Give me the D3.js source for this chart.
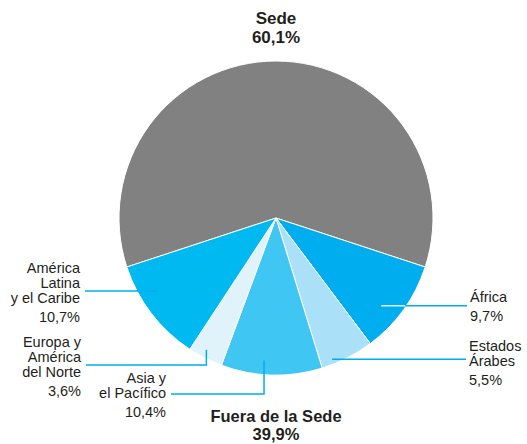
<!DOCTYPE html>
<html>
<head>
	<script src="https://cdn.jsdelivr.net/npm/d3@7"></script>
	<style>
		html, body {
			padding: 0;
			margin: 0;
			background: white;
		}
		text {
			font-family: "Liberation Sans", Arial, sans-serif;
		}
	</style>
</head>
<body>
	<div id="chart"></div>

	<script>
		// data
		var regions = ["Sede", "África", "Estados Árabes", "Asia y el Pacífico", "Europa y América del Norte", "América Latina y el Caribe"];
		var shares = [60.1, 9.7, 5.5, 10.4, 3.6, 10.7];
		var labelLines = [
			[],
			["África"],
			["Estados", "Árabes"],
			["Asia y", "el Pacífico"],
			["Europa y", "América", "del Norte"],
			["América", "Latina", "y el Caribe"]
		];
		var pctLabels = ["60,1%", "9,7%", "5,5%", "10,4%", "3,6%", "10,7%"];
		var headTitle = ["Sede", "60,1%"];
		var footTitle = ["Fuera de la Sede", "39,9%"];

		var colors = ["#818181", "#00aeef", "#abe0f9", "#40c6f3", "#e0f3fb", "#00b9f1"];
		var lineColor = "#00aeef";

		var width = 527, height = 444;
		var cx = 276, cy = 218, radius = 157;

		var svg = d3.select("#chart").append("svg")
			.attr("width", width)
			.attr("height", height);

		var g = svg.append("g").attr("transform", "translate(" + cx + "," + cy + ")");

		// rotate so the Sede slice is centred at the top
		var start = -shares[0] / 100 * Math.PI;
		var pie = d3.pie().sort(null).value(function(d) { return d; })
			.startAngle(start).endAngle(start + 2 * Math.PI);
		var arcs = pie(shares);
		var arc = d3.arc().innerRadius(0).outerRadius(radius);

		g.selectAll("path")
			.data(arcs)
			.enter().append("path")
			.attr("d", arc)
			.attr("fill", function(d, i) { return colors[i]; })
			.attr("stroke", "white")
			.attr("stroke-width", 1);

		// leader layout: start point (fraction through slice, radius), label x, side, optional elbow y
		var leaders = [
			null,
			{ frac: 0.62, r: 137, x: 467, side: "right", inner: "#e4f5fd" },
			{ frac: 0.77, r: 152, x: 466, side: "right" },
			{ frac: 0.585, r: 143, x: 171, side: "left", drop: 394 },
			{ frac: 0.58, r: 149, x: 86, side: "left", drop: 365 },
			{ frac: 0.65, r: 139, x: 85, side: "left" }
		];

		function pointAt(d, l) {
			var a = d.startAngle + (d.endAngle - d.startAngle) * l.frac;
			return [Math.sin(a) * l.r, -Math.cos(a) * l.r];
		}

		arcs.forEach(function(d, i) {
			var l = leaders[i];
			if (!l) return;
			var p = pointAt(d, l);
			var pts;
			if (l.drop) {
				pts = [[cx + p[0], cy + p[1]], [cx + p[0], l.drop], [l.x, l.drop]];
			} else {
				pts = [[cx + p[0], cy + p[1]], [l.x, cy + p[1]]];
			}
			svg.append("path")
				.attr("d", d3.line()(pts))
				.attr("fill", "none")
				.attr("stroke", lineColor)
				.attr("stroke-width", 1.5);

			// part of the leader that lies on a slice of the same colour is drawn light
			if (l.inner) {
				var edgeX = Math.sqrt(radius * radius - p[1] * p[1]);
				svg.append("path")
					.attr("d", d3.line()([[cx + p[0], cy + p[1]], [cx + edgeX - 1, cy + p[1]]]))
					.attr("stroke", l.inner)
					.attr("stroke-width", 1.5);
			}

			var yLine = pts[pts.length - 1][1];
			var lines = labelLines[i];
			var right = l.side === "right";
			var tx = right ? l.x + 3 : l.x - 5;
			var y0 = right ? yLine - 4 - 4 * (lines.length - 1)
				: yLine - 4 - 7 * (lines.length - 1);
			var t = svg.append("text")
				.attr("text-anchor", right ? "start" : "end")
				.attr("font-size", 14.5)
				.attr("fill", "#231f20");
			lines.forEach(function(s, k) {
				t.append("tspan").attr("x", tx).attr("y", y0 + k * 15).text(s);
			});
			t.append("tspan").attr("x", tx)
				.attr("y", y0 + (lines.length - 1) * 15 + 19)
				.text(pctLabels[i]);
		});

		function title(lines, y, gap, size) {
			var t = svg.append("text")
				.attr("text-anchor", "middle")
				.attr("font-size", size)
				.attr("font-weight", "bold")
				.attr("fill", "#231f20");
			lines.forEach(function(s, k) {
				t.append("tspan").attr("x", cx).attr("y", y + k * gap).text(s);
			});
		}
		title(headTitle, 24, 19, 17);
		title(footTitle, 422, 18, 16.5);
	</script>
</body>
</html>
